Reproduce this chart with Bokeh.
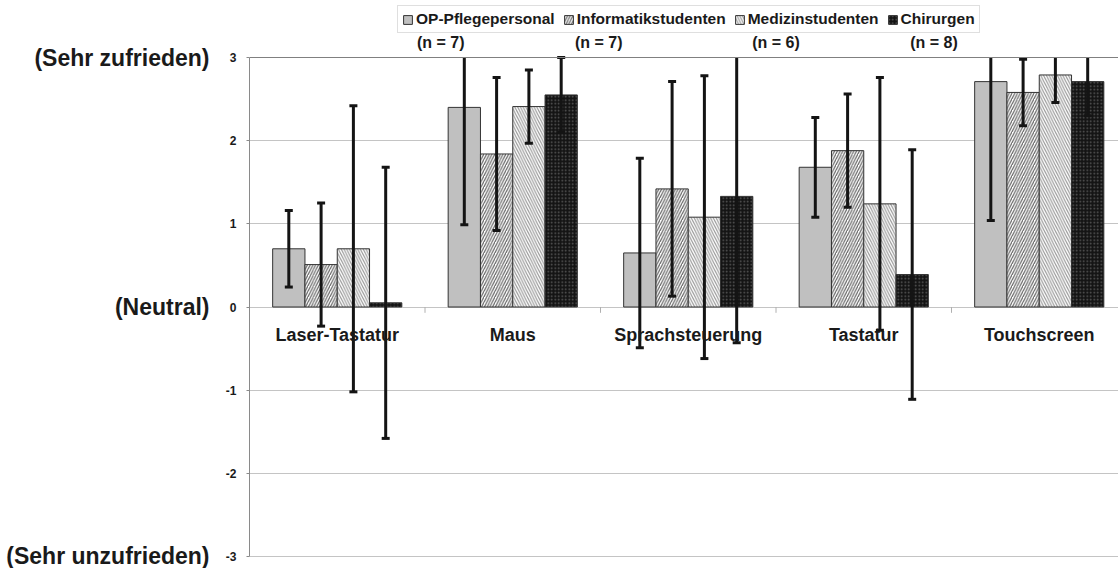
from bokeh.plotting import figure
from bokeh.models import Range1d, FixedTicker, Span, Legend, LegendItem, LinearAxis, Label
from bokeh.core.properties import value
from bokeh.embed import file_html
from bokeh.resources import INLINE

# ---------------- data ----------------
categories = ["Laser-Tastatur", "Maus", "Sprachsteuerung", "Tastatur", "Touchscreen"]
groups = ["OP-Pflegepersonal", "Informatikstudenten", "Medizinstudenten", "Chirurgen"]

op_mean = [0.70, 2.40, 0.65, 1.68, 2.71]
op_sd = [0.46, 1.41, 1.14, 0.60, 1.67]
inf_mean = [0.51, 1.84, 1.42, 1.88, 2.58]
inf_sd = [0.74, 0.92, 1.29, 0.68, 0.40]
med_mean = [0.70, 2.41, 1.08, 1.24, 2.79]
med_sd = [1.72, 0.44, 1.70, 1.52, 0.33]
chir_mean = [0.05, 2.55, 1.33, 0.39, 2.71]
chir_sd = [1.63, 0.45, 1.76, 1.50, 0.41]

n_labels = ["(n = 7)", "(n = 7)", "(n = 6)", "(n = 8)"]
y_ticks = [-3, -2, -1, 0, 1, 2, 3]
y_tick_labels = ["-3", "-2", "-1", "0", "1", "2", "3"]
scale_ticks = [3, 0, -3]
scale_labels = ["(Sehr zufrieden)", "(Neutral)", "(Sehr unzufrieden)"]

# ---------------- layout / style ----------------
FONT = "Liberation Sans"
TXT = "#1a1a1a"
means = [op_mean, inf_mean, med_mean, chir_mean]
sds = [op_sd, inf_sd, med_sd, chir_sd]
styles = [
    dict(fill_color="#c0c0c0"),
    dict(fill_color="white", hatch_pattern="/", hatch_color="#666666", hatch_scale=5.5, hatch_weight=1.2),
    dict(fill_color="white", hatch_pattern="\\", hatch_color="#9a9a9a", hatch_scale=5.5, hatch_weight=1.2),
    dict(fill_color="#141414", hatch_pattern=".", hatch_color="#5c5c5c", hatch_scale=3.5, hatch_weight=0.5),
]
bar_w = 0.184
cat_px = 175.5
frame_left = 249
fig_w, fig_h = 1118, 568
y_lo, y_hi = -3, 3
px_per_unit = 499 / 6.0
frame_top_px = 57            # pixel position of y = 3 from the top of the canvas
y_top = y_hi + frame_top_px / px_per_unit
n_label_x = [1.09, 1.99, 3.0, 3.9]
n_label_y = 3.18

p = figure(width=fig_w, height=fig_h, output_backend="svg", toolbar_location=None,
           x_range=Range1d(0, (fig_w - frame_left) / cat_px), y_range=Range1d(y_lo, y_top),
           x_axis_location=None, y_axis_location="left",
           min_border_left=frame_left, min_border_right=0, min_border_top=0, min_border_bottom=12)
p.outline_line_color = None
p.background_fill_color = "white"
p.border_fill_color = "white"

p.xgrid.visible = False
p.ygrid.ticker = FixedTicker(ticks=y_ticks)
p.ygrid.grid_line_color = "#c4c4c4"

yax = p.yaxis[0]
yax.ticker = FixedTicker(ticks=y_ticks)
yax.bounds = (y_lo, y_hi)
yax.major_label_overrides = dict(zip(y_ticks, y_tick_labels))
yax.axis_line_color = "#8a8a8a"
yax.major_tick_line_color = "#8a8a8a"
yax.major_tick_out = 3
yax.major_tick_in = 0
yax.minor_tick_line_color = None
yax.major_label_standoff = 10
yax.major_label_text_font = FONT
yax.major_label_text_font_style = "bold"
yax.major_label_text_font_size = "12px"
yax.major_label_text_color = TXT

# outer axis carrying the verbal scale anchors
sax = LinearAxis(ticker=FixedTicker(ticks=scale_ticks),
                 major_label_overrides=dict(zip(scale_ticks, scale_labels)))
sax.axis_line_color = None
sax.major_tick_line_color = None
sax.minor_tick_line_color = None
sax.major_label_standoff = 7
sax.major_label_text_font = FONT
sax.major_label_text_font_style = "bold"
sax.major_label_text_font_size = "23px"
sax.major_label_text_color = TXT
p.add_layout(sax, "left")

p.add_layout(Span(location=y_hi, dimension="width", line_color="#808080", line_width=1))
p.add_layout(Span(location=y_lo, dimension="width", line_color="#8a8a8a", line_width=1))

centers = [i + 0.5 for i in range(len(categories))]
renderers = []
for gi, (m, st) in enumerate(zip(means, styles)):
    xs = [c + (gi - 1.5) * bar_w for c in centers]
    r = p.vbar(x=xs, top=m, bottom=0, width=bar_w, line_color="#333333", line_width=1, **st)
    renderers.append(r)

for gi, (m, s) in enumerate(zip(means, sds)):
    xs = [c + (gi - 1.5) * bar_w for c in centers]
    lo = [a - b for a, b in zip(m, s)]
    hi = [a + b for a, b in zip(m, s)]
    hi_c = [min(h, y_hi) for h in hi]
    p.segment(x0=xs, y0=lo, x1=xs, y1=hi_c, line_color="#141414", line_width=3)
    cap_x = xs + [x for x, h in zip(xs, hi) if h <= y_hi]
    cap_y = lo + [h for h in hi if h <= y_hi]
    p.scatter(x=cap_x, y=cap_y, marker="dash", size=8, line_color="#141414", line_width=3)

# category boundary ticks on the zero line
bounds = list(range(1, len(categories)))
p.segment(x0=bounds, y0=[0] * len(bounds), x1=bounds, y1=[-0.07] * len(bounds),
          line_color="#b0b0b0", line_width=1)

p.text(x=centers, y=[-0.34] * len(centers), text=categories, text_align="center",
       text_baseline="middle", text_font=value(FONT), text_font_style="bold",
       text_font_size="18px", text_color=TXT)

for xv, t in zip(n_label_x, n_labels):
    p.add_layout(Label(x=xv, y=n_label_y, text=t, text_align="center", text_baseline="middle",
                       text_font=FONT, text_font_style="bold", text_font_size="16px",
                       text_color=TXT))

legend = Legend(items=[LegendItem(label=g, renderers=[r]) for g, r in zip(groups, renderers)],
                orientation="horizontal", location=(148, 523))
legend.label_text_font = FONT
legend.label_text_font_style = "bold"
legend.label_text_font_size = "15.5px"
legend.label_text_color = TXT
legend.glyph_width = 11
legend.glyph_height = 11
legend.label_height = 15
legend.label_standoff = 3
legend.spacing = 8
legend.padding = 4
legend.margin = 0
legend.border_line_color = "#c0c0c0"
legend.background_fill_color = "white"
legend.background_fill_alpha = 1
p.add_layout(legend)

open("out.html", "w").write(file_html(p, INLINE))
